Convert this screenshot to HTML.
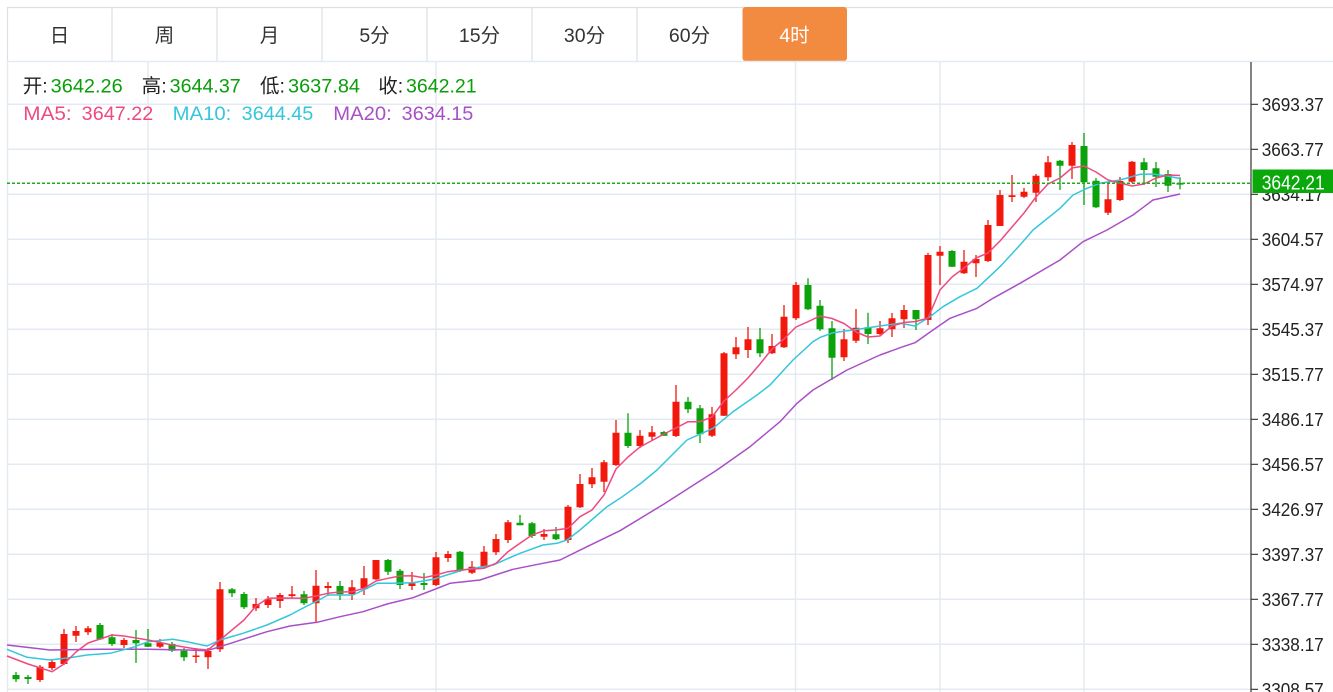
<!DOCTYPE html>
<html><head><meta charset="utf-8"><style>
html,body{margin:0;padding:0;background:#fff;}
svg{display:block;}
text{font-family:"Liberation Sans","Noto Sans CJK SC",sans-serif;}
</style></head><body>
<svg width="1333" height="692" viewBox="0 0 1333 692" xmlns="http://www.w3.org/2000/svg">
<rect width="1333" height="692" fill="#fff"/>
<!-- tabs -->
<g stroke="#dcdfe3" stroke-width="1.2" fill="none">
<path d="M7 7.5H1333M7.5 7V61M112 7V61M217 7V61M322 7V61M427 7V61M532 7V61M637 7V61"/>
</g>
<rect x="742.5" y="7" width="104.5" height="54" rx="3" fill="#f28b3f"/>
<g font-size="19.5" fill="#333" text-anchor="middle">
<text x="59.5" y="42">日</text>
<text x="164.5" y="42">周</text>
<text x="269.5" y="42">月</text>
<text x="374.5" y="42">5分</text>
<text x="479.5" y="42">15分</text>
<text x="584.5" y="42">30分</text>
<text x="689.5" y="42">60分</text>
<text x="794.5" y="42" fill="#fff">4时</text>
</g>
<!-- grid -->
<g stroke="#e3eaf1" stroke-width="1.5" fill="none">
<path d="M7 61.5H1333"/>
<path d="M7.5 61V692M148 61V692M436 61V692M795.5 61V692M940 61V692M1084 61V692"/>
<path d="M7 104.3H1251M7 149.3H1251M7 194.3H1251M7 239.3H1251M7 284.3H1251M7 329.3H1251M7 374.3H1251M7 419.3H1251M7 464.3H1251M7 509.3H1251M7 554.3H1251M7 599.3H1251M7 644.3H1251M7 689.3H1251"/>
</g>
<!-- axis -->
<g stroke="#333" stroke-width="1.2" fill="none">
<path d="M1251 62V692"/>
<path d="M1251 104.3H1258M1251 149.3H1258M1251 194.3H1258M1251 239.3H1258M1251 284.3H1258M1251 329.3H1258M1251 374.3H1258M1251 419.3H1258M1251 464.3H1258M1251 509.3H1258M1251 554.3H1258M1251 599.3H1258M1251 644.3H1258M1251 689.3H1258"/>
</g>
<g font-size="18.5" fill="#222">
<text x="1261.7" y="110.8" textLength="62" lengthAdjust="spacingAndGlyphs">3693.37</text>
<text x="1261.7" y="155.8" textLength="62" lengthAdjust="spacingAndGlyphs">3663.77</text>
<text x="1261.7" y="200.8" textLength="62" lengthAdjust="spacingAndGlyphs">3634.17</text>
<text x="1261.7" y="245.8" textLength="62" lengthAdjust="spacingAndGlyphs">3604.57</text>
<text x="1261.7" y="290.8" textLength="62" lengthAdjust="spacingAndGlyphs">3574.97</text>
<text x="1261.7" y="335.8" textLength="62" lengthAdjust="spacingAndGlyphs">3545.37</text>
<text x="1261.7" y="380.8" textLength="62" lengthAdjust="spacingAndGlyphs">3515.77</text>
<text x="1261.7" y="425.8" textLength="62" lengthAdjust="spacingAndGlyphs">3486.17</text>
<text x="1261.7" y="470.8" textLength="62" lengthAdjust="spacingAndGlyphs">3456.57</text>
<text x="1261.7" y="515.8" textLength="62" lengthAdjust="spacingAndGlyphs">3426.97</text>
<text x="1261.7" y="560.8" textLength="62" lengthAdjust="spacingAndGlyphs">3397.37</text>
<text x="1261.7" y="605.8" textLength="62" lengthAdjust="spacingAndGlyphs">3367.77</text>
<text x="1261.7" y="650.8" textLength="62" lengthAdjust="spacingAndGlyphs">3338.17</text>
<text x="1261.7" y="695.8" textLength="62" lengthAdjust="spacingAndGlyphs">3308.57</text>
</g>
<!-- candles red -->
<g stroke="#f2180c" stroke-width="1.3" fill="none">
<path d="M40 665V682M52 660V670M64 629V665M76 626V642M88 626V635M124 638V648M160 639V648M196 648V663M208 648V669M220 582V652M256 598V611M268 596V608M280 593V608M292 586V598M316 570V623M328 582V596M352 580V600M364 566V595M376 560V580M412 572V590M436 552V586M448 551V562M472 561V574M484 546V568M496 534V555M508 520V543M544 529V540M568 505V543M580 474V508M592 468V488M604 460V492M616 420V466M640 430V448M652 426V440M676 385V437M712 407V437M724 352V416M736 337V359M748 327V358M772 334V354M784 305V348M796 282V320M844 329V361M856 309V343M880 321V335M892 313V337M904 305V328M928 253V325M940 246V285M964 250V274M976 255V277M988 220V262M1000 190V226M1012 175V202M1024 188V198M1036 174V202M1048 156V181M1072 142V179M1108 184V215M1120 177V201M1132 161V183"/>
</g>
<path fill="#f2180c" d="M36.5 666.7h7V680h-7zM48.5 662h7V668h-7zM60.5 634h7V664h-7zM72.5 631h7V635.7h-7zM84.5 628.3h7V632.3h-7zM120.5 640h7V645h-7zM156.5 642.7h7V646.7h-7zM192.5 655.5h7V657h-7zM204.5 651h7V657.3h-7zM216.5 589.3h7V649.3h-7zM252.5 604h7V608.3h-7zM264.5 599.3h7V605h-7zM276.5 595h7V601h-7zM288.5 594.3h7V596h-7zM312.5 585.7h7V603.3h-7zM324.5 586h7V588h-7zM348.5 587.3h7V594h-7zM360.5 578.3h7V588.3h-7zM372.5 560h7V579.3h-7zM408.5 583.3h7V586h-7zM432.5 557.3h7V585h-7zM444.5 554h7V558h-7zM468.5 566.7h7V572.7h-7zM480.5 551.7h7V566.7h-7zM492.5 539h7V552.3h-7zM504.5 522.3h7V540h-7zM540.5 534h7V536.7h-7zM564.5 506.7h7V540h-7zM576.5 484h7V507.3h-7zM588.5 477.3h7V484.3h-7zM600.5 462.3h7V481.7h-7zM612.5 432.7h7V465h-7zM636.5 435.7h7V446h-7zM648.5 432.3h7V436.7h-7zM672.5 401.7h7V436h-7zM708.5 414.3h7V435.7h-7zM720.5 353.3h7V415.7h-7zM732.5 347.3h7V354.3h-7zM744.5 339.3h7V350h-7zM768.5 346h7V353.3h-7zM780.5 316.7h7V347.3h-7zM792.5 285h7V318.3h-7zM840.5 339.3h7V357.3h-7zM852.5 327.7h7V340.7h-7zM876.5 328.3h7V334h-7zM888.5 318.3h7V329.3h-7zM900.5 310h7V319.3h-7zM924.5 255h7V320h-7zM936.5 251.7h7V255.7h-7zM960.5 261.7h7V273.3h-7zM972.5 259h7V263.3h-7zM984.5 225h7V261h-7zM996.5 195h7V226h-7zM1008.5 195.3h7V197h-7zM1020.5 191.7h7V196.7h-7zM1032.5 175.7h7V192.7h-7zM1044.5 162.3h7V177.3h-7zM1068.5 145h7V165.7h-7zM1104.5 199.3h7V212.7h-7zM1116.5 181h7V200h-7zM1128.5 161.7h7V181.7h-7z"/>
<!-- candles green -->
<g stroke="#0ba20b" stroke-width="1.3" fill="none">
<path d="M16 672V682M28 675V684M100 623V640M112 634V646M136 630V663M148 629V647M172 642V652M184 648V661M232 588V597M244 592V609M304 591V605M340 581V600M388 559V575M400 569V589M424 573V590M460 551V572M520 515V525.3M532 522V538M556 527V540M628 413.3V448M664 431V436M688 397V413M700 405V443M760 328V357M808 278.3V310M820 300V331M832 321V380M868 312.7V344M916 310V330M952 250V267M1060 160V190M1084 133V205M1096 178V208M1144 158V185M1156 162V187M1168 170V192M1180 177.3V189.3"/>
</g>
<path fill="#0ba20b" d="M12.5 675h7V679.3h-7zM24.5 677h7V679h-7zM96.5 625h7V639.3h-7zM108.5 637.3h7V644h-7zM132.5 640h7V643.3h-7zM144.5 643.3h7V646.7h-7zM168.5 644h7V650.7h-7zM180.5 650.7h7V657.3h-7zM228.5 589.3h7V593.3h-7zM240.5 594h7V607.3h-7zM300.5 594.3h7V603.3h-7zM336.5 586h7V594.3h-7zM384.5 560h7V571.7h-7zM396.5 570.7h7V585h-7zM420.5 583h7V585h-7zM456.5 551.7h7V570.7h-7zM516.5 522.7h7V525.3h-7zM528.5 523.3h7V536h-7zM552.5 534.3h7V539.3h-7zM624.5 432.7h7V446h-7zM660.5 432h7V435.7h-7zM684.5 401.7h7V409.3h-7zM696.5 408.3h7V434.3h-7zM756.5 339.3h7V353.3h-7zM804.5 285h7V309.3h-7zM816.5 305.7h7V329.3h-7zM828.5 328.3h7V357.7h-7zM864.5 327.3h7V334h-7zM912.5 310h7V319.3h-7zM948.5 251h7V266.7h-7zM1056.5 160.7h7V165.7h-7zM1080.5 146h7V182.3h-7zM1092.5 180.7h7V207.3h-7zM1140.5 162.3h7V170h-7zM1152.5 168.3h7V176.7h-7zM1164.5 174h7V185.7h-7zM1176.5 183h7V184.6h-7z"/>
<!-- MA lines -->
<polyline fill="none" stroke="#a94fc6" stroke-width="1.5" stroke-linejoin="round" points="7,645 50,650 100,649.3 148,649.3 187,650 207,650.7 220,646.7 243,639.3 267,631.7 290,626 317,622.3 340,616.7 363,611.7 387,604 413,597.7 433,590 450,583.3 480,580 513,569.3 543,563.3 560,560 587,546.7 620,530.7 664,504 717,470 750,446.7 780,421.7 797,403.3 813,390 847,370 880,355 903,346.7 915,342.7 933,330 950,318.3 977,308.3 993,298.3 1020,283.3 1060,260 1083,241.7 1107,230 1133,215 1153,200 1180,194"/>
<polyline fill="none" stroke="#35c6dc" stroke-width="1.5" stroke-linejoin="round" points="7,649.3 27,657.3 50,660 73,657.3 87,655 110,653.3 133,647.3 148,641.7 173,639.3 187,641.7 207,646 220,640 243,633.3 267,625 290,615 307,606 317,601 328,595 340,595 353,595 367,588.3 377,583.3 390,583.3 413,582.7 433,579.3 450,574 463,570 493,565 520,553.3 543,545 557,543.3 567,540 580,530 607,506.7 620,498.3 640,484 657,470 687,440 713,428.3 733,411.7 757,395 770,385 793,360 813,341.7 820,337.5 833,332.7 853,330 880,326 900,323.3 915,326 930,316.7 943,306.7 960,296.7 977,288.3 1000,266.7 1020,245 1033,230 1060,208.3 1073,195 1087,188.3 1100,183.3 1120,180 1140,174.3 1153,174 1167,176 1180,178.5"/>
<polyline fill="none" stroke="#ee4a80" stroke-width="1.5" stroke-linejoin="round" points="7,656 28,664 52,671.7 64,664 76,652 88,643 112,635 124,636 148,640 172,645 196,649 208,650 220,640 244,620 256,606 268,598.3 280,598 304,598.3 316,596 328,593.3 340,592 352,591.7 364,588.3 376,581 388,578.3 400,576 412,575.7 424,577.7 436,575 448,571.7 460,570 484,568.3 496,563.3 508,551.7 520,543.3 532,535 544,530.7 556,530 568,528.3 580,516.7 592,510 604,495 616,469 628,457 640,447 653,440 664,434 676,428 688,421.7 700,421.7 712,417 724,401 736,390 748,378 760,364 772,349 784,339 796,327 808,321.7 820,316 832,318.5 844,323.5 856,332 868,337 880,336 892,326 904,322.5 916,321.5 928,318 940,290 952,277 964,268 976,258 988,253 1000,241 1012,227 1024,213 1036,197 1048,184 1060,178 1072,168 1084,166 1096,172 1108,180 1120,183 1132,186 1144,184 1156,178 1168,175 1180,175.5"/>
<!-- current price -->
<path d="M7 183.3H1252" stroke="#1fa81f" stroke-width="1.5" stroke-dasharray="3 2" fill="none"/>
<rect x="1252.5" y="169.5" width="81" height="23.5" fill="#0aa80a"/>
<text x="1261.7" y="189.5" font-size="20" fill="#fff" textLength="63" lengthAdjust="spacingAndGlyphs">3642.21</text>
<!-- header -->
<g font-size="19.5">
<text x="22.7" y="92.7" fill="#222">开:</text>
<text x="50.7" y="92.7" fill="#0a9e0a" textLength="72" lengthAdjust="spacingAndGlyphs">3642.26</text>
<text x="141.7" y="92.7" fill="#222">高:</text>
<text x="169.7" y="92.7" fill="#0a9e0a" textLength="71" lengthAdjust="spacingAndGlyphs">3644.37</text>
<text x="260" y="92.7" fill="#222">低:</text>
<text x="288" y="92.7" fill="#0a9e0a" textLength="72" lengthAdjust="spacingAndGlyphs">3637.84</text>
<text x="378.3" y="92.7" fill="#222">收:</text>
<text x="406" y="92.7" fill="#0a9e0a" textLength="70.7" lengthAdjust="spacingAndGlyphs">3642.21</text>
<text x="23.3" y="120" fill="#ee4a80" textLength="48.4" lengthAdjust="spacingAndGlyphs">MA5:</text>
<text x="81.7" y="120" fill="#ee4a80" textLength="71.6" lengthAdjust="spacingAndGlyphs">3647.22</text>
<text x="172.7" y="120" fill="#35c6dc" textLength="58.6" lengthAdjust="spacingAndGlyphs">MA10:</text>
<text x="241.7" y="120" fill="#35c6dc" textLength="71.6" lengthAdjust="spacingAndGlyphs">3644.45</text>
<text x="333.3" y="120" fill="#a94fc6" textLength="58.4" lengthAdjust="spacingAndGlyphs">MA20:</text>
<text x="401.7" y="120" fill="#a94fc6" textLength="71.6" lengthAdjust="spacingAndGlyphs">3634.15</text>
</g>
</svg>
</body></html>
